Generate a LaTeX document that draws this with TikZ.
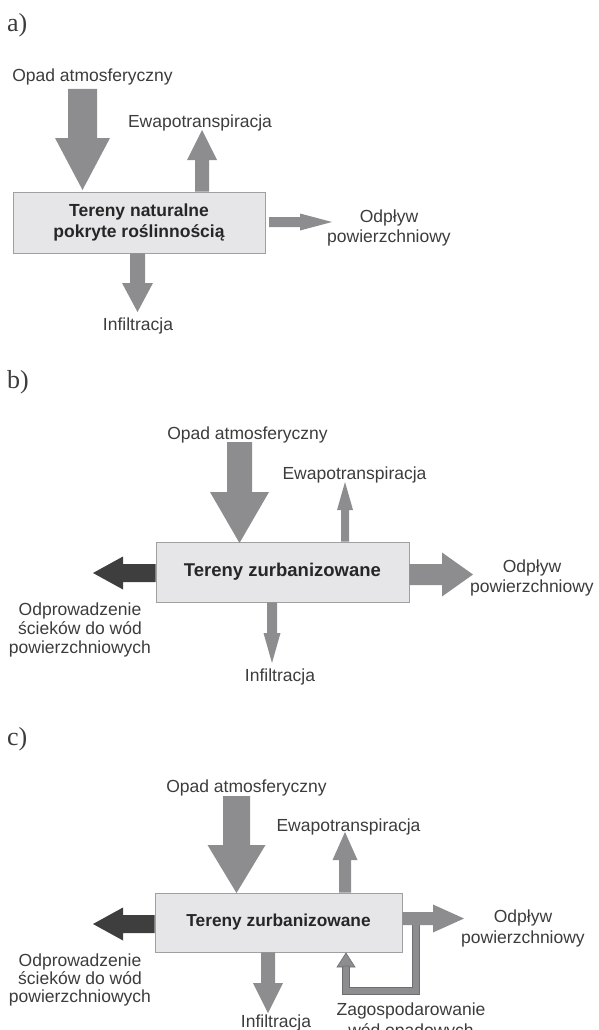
\documentclass[tikz,border=0pt]{standalone}
\usepackage{fontspec}
\setmainfont{Liberation Sans}
\newfontfamily\serifpanel{Liberation Serif}
\usetikzlibrary{calc}
\definecolor{arrowgray}{HTML}{8D8D8F}
\definecolor{darkarrow}{HTML}{3E3E3E}
\definecolor{boxfill}{HTML}{E6E6E8}
\definecolor{boxline}{HTML}{A0A0A0}
\definecolor{labeltext}{HTML}{3C3C3C}
\definecolor{loopline}{HTML}{6E6E70}
\begin{document}
\begin{tikzpicture}[x=1pt,y=-1pt,
  lbl/.style={inner sep=0pt, font=\fontsize{17.5}{20}\selectfont, text=labeltext, align=center, anchor=base},
  panel/.style={inner sep=0pt, font=\serifpanel\fontsize{26}{26}\selectfont, text=labeltext, anchor=base west},
  area/.style={draw=boxline, fill=boxfill, line width=0.9pt, inner sep=0pt, align=center, text=black!85},
  garrow/.style={fill=arrowgray},
  darrow/.style={fill=darkarrow},
  barrow/.style n args={3}{to path={
    ($(\tikztotarget)!#3!(\tikztostart)$) coordinate (bh)
    ($(\tikztostart)!#1!90:(\tikztotarget)$) -- ($(bh)!#1!90:(\tikztotarget)$)
    -- ($(bh)!#2!90:(\tikztotarget)$) -- (\tikztotarget)
    -- ($(bh)!#2!-90:(\tikztotarget)$) -- ($(bh)!#1!-90:(\tikztotarget)$)
    -- ($(\tikztostart)!#1!-90:(\tikztotarget)$) -- cycle}}
]
\useasboundingbox (0,0) rectangle (598,1030);

% ---------------- panel a ----------------
\node[panel] (a-lab) at (7,32) {a)};
\node[area, minimum width=252pt, minimum height=61pt,
      font=\bfseries\fontsize{17.5}{20.5}\selectfont] (a-box) at (139,222.5) {Tereny naturalne\\pokryte roślinnością};
\node[lbl] (a-opad) at (92.5,82) {Opad atmosferyczny};
\node[lbl] (a-ewap) at (200,128) {Ewapotranspiracja};
\node[lbl] (a-odp) at (389,242) {Odpływ\\powierzchniowy};
\node[lbl] (a-inf) at (138,330) {Infiltracja};

\coordinate (a-op-s) at (82.5,89);
\coordinate (a-op-e) at (82.5,190);
\coordinate (a-ev-e) at (202,130);
\coordinate (a-od-s) at (269,222);
\coordinate (a-od-e) at (332,222);
\coordinate (a-in-e) at (137.5,312);
\fill[garrow] (a-op-s) to[barrow={14.5pt}{27.5pt}{52pt}] (a-op-e);
\fill[garrow] (a-box.north -| a-ev-e) to[barrow={7pt}{15pt}{30pt}] (a-ev-e);
\fill[garrow] (a-od-s) to[barrow={5pt}{8.5pt}{32pt}] (a-od-e);
\fill[garrow] (a-box.south -| a-in-e) to[barrow={7.5pt}{15.5pt}{29pt}] (a-in-e);

% ---------------- panel b ----------------
\node[panel] (b-lab) at (7,388) {b)};
\node[area, minimum width=253pt, minimum height=60pt,
      font=\bfseries\fontsize{18.5}{21}\selectfont] (b-box) at (282.5,572) {Tereny zurbanizowane};
\node[lbl] (b-opad) at (247.5,439) {Opad atmosferyczny};
\node[lbl] (b-ewap) at (354.5,479) {Ewapotranspiracja};
\node[lbl] (b-odp) at (532,592) {Odpływ\\powierzchniowy};
\node[lbl, font=\fontsize{17.5}{19}\selectfont] (b-sciek) at (80,653) {Odprowadzenie\\ścieków do wód\\powierzchniowych};
\node[lbl] (b-inf) at (280,681) {Infiltracja};

\coordinate (b-op-s) at (239.5,442);
\coordinate (b-op-e) at (239.5,543);
\coordinate (b-ev-e) at (345,482);
\coordinate (b-od-e) at (473,574.5);
\coordinate (b-sc-e) at (93,573);
\coordinate (b-in-e) at (272,663);
\fill[garrow] (b-op-s) to[barrow={12.5pt}{29.5pt}{51pt}] (b-op-e);
\fill[garrow] (b-box.north -| b-ev-e) to[barrow={4pt}{8pt}{28pt}] (b-ev-e);
\fill[garrow] (b-box.east |- b-od-e) to[barrow={10.5pt}{22pt}{31pt}] (b-od-e);
\fill[darrow] (b-box.west |- b-sc-e) to[barrow={9pt}{16.5pt}{30pt}] (b-sc-e);
\fill[garrow] (b-box.south -| b-in-e) to[barrow={5pt}{8.5pt}{30pt}] (b-in-e);

% ---------------- panel c ----------------
\node[panel] (c-lab) at (7,745) {c)};
\node[area, minimum width=247pt, minimum height=59pt,
      font=\bfseries\fontsize{17.3}{21}\selectfont] (c-box) at (278.5,922.5) {Tereny zurbanizowane};
\node[lbl] (c-opad) at (246.5,792) {Opad atmosferyczny};
\node[lbl] (c-ewap) at (348.5,831) {Ewapotranspiracja};
\node[lbl, font=\fontsize{17.5}{21}\selectfont] (c-odp) at (523,943) {Odpływ\\powierzchniowy};
\node[lbl, font=\fontsize{17.5}{18}\selectfont] (c-sciek) at (80,1002) {Odprowadzenie\\ścieków do wód\\powierzchniowych};
\node[lbl] (c-inf) at (276,1027) {Infiltracja};
\node[lbl, font=\fontsize{17.5}{21}\selectfont] (c-zag) at (411,1036) {Zagospodarowanie\\wód opadowych};

\coordinate (c-op-s) at (236.5,796);
\coordinate (c-op-e) at (236.5,893);
\coordinate (c-ev-e) at (345,832);
\coordinate (c-od-e) at (464,918.5);
\coordinate (c-sc-e) at (93,924);
\coordinate (c-in-e) at (268,1013);
% loop of stormwater management
\coordinate (c-lp-a) at (416,920);
\coordinate (c-lp-b) at (416,991);
\coordinate (c-lp-c) at (346,991);
\coordinate (c-lp-d) at (346,966);
\coordinate (c-lp-e) at (346,953);
\draw[line width=8pt, loopline, line join=miter] (c-lp-a) -- (c-lp-b) -- (c-lp-c) -- (c-lp-d);
\draw[line width=6pt, arrowgray, line join=miter] (c-lp-a) -- (c-lp-b) -- (c-lp-c) -- (c-lp-d);
\filldraw[garrow, draw=loopline, line width=0.6pt] (c-lp-d) to[barrow={3pt}{9pt}{14pt}] (c-lp-e);

\fill[garrow] (c-op-s) to[barrow={13.5pt}{29pt}{48pt}] (c-op-e);
\fill[garrow] (c-box.north -| c-ev-e) to[barrow={6pt}{12.5pt}{28pt}] (c-ev-e);
\fill[garrow] (c-box.east |- c-od-e) to[barrow={6.5pt}{14pt}{31pt}] (c-od-e);
\fill[darrow] (c-box.west |- c-sc-e) to[barrow={9pt}{16.5pt}{30pt}] (c-sc-e);
\fill[garrow] (c-box.south -| c-in-e) to[barrow={7pt}{15pt}{30pt}] (c-in-e);
\end{tikzpicture}
\end{document}
